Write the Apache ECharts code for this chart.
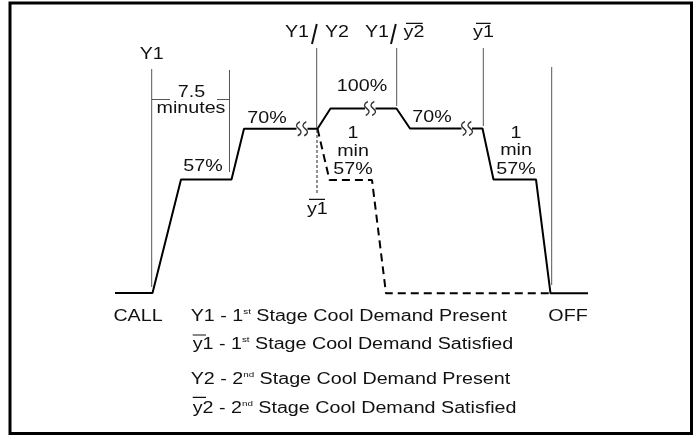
<!DOCTYPE html>
<html>
<head>
<meta charset="utf-8">
<script src="https://cdn.jsdelivr.net/npm/echarts@6/dist/echarts.min.js"></script>
<style>
  html, body { margin: 0; padding: 0; background: #fff; }
  #chart { width: 697px; height: 439px; }
</style>
</head>
<body>
<div id="chart"></div>
<script>
// drawing units = page pixels of the schematic (x: time, y: capacity level, downward)
const solidSegments = [
    [[115, 293], [152.5, 293], [181, 179.5], [231.5, 179.5], [244, 128.8], [296.5, 128.8]],
    [[307.5, 128.8], [317.5, 128.8], [330.5, 108.5], [365, 108.5]],
    [[375.5, 108.5], [396.5, 108.5], [410, 128.5], [461.5, 128.5]],
    [[472, 128.5], [482.5, 128.5], [493.5, 179.5], [536, 179.5], [550.5, 293.3], [588, 293.3]],
];
const dashedPath = [[317.5, 128.8], [329.5, 180], [372, 180], [386, 293.3], [549, 293.3]];
const guideLines = [
    [[151.7, 69], [151.7, 287]],
    [[229.5, 70], [229.5, 172]],
    [[152, 99.5], [170, 99.5]],
    [[217, 99.5], [229.5, 99.5]],
    [[316.7, 48], [316.7, 128]],
    [[396.7, 48], [396.7, 106]],
    [[483.3, 48], [483.3, 126]],
    [[551.7, 67], [551.7, 285]],
];
const dottedGuide = [[317, 130], [317, 193]];
const slashes = [
    [[312, 44], [316.8, 24]],
    [[391, 44], [395.8, 24]],
];
const overlines = [
    [[476, 23.3], [490.7, 23.3]],
    [[406, 23.3], [422.7, 23.3]],
    [[309, 199.3], [325, 199.3]],
    [[192.7, 335], [206, 335]],
    [[192.7, 397.3], [206, 397.3]],
];
const squiggles = [[302, 128.8], [370, 108.5], [467, 128.5]];
const labels = [
    [151.7, 55, 'Y1'],
    [191.5, 93, '7.5'],
    [191, 109, 'minutes'],
    [203, 167, '57%'],
    [267, 119, '70%'],
    [297, 33, 'Y1'],
    [337, 33, 'Y2'],
    [362, 87, '100%'],
    [377, 33, 'Y1'],
    [414, 33, 'y2'],
    [432, 118, '70%'],
    [483.5, 33, 'y1'],
    [353, 133.5, '1'],
    [353, 151.5, 'min'],
    [353, 170, '57%'],
    [516, 133.5, '1'],
    [516, 151, 'min'],
    [516, 169.5, '57%'],
    [317.3, 210, 'y1'],
    [138, 316.7, 'CALL'],
    [568, 316.7, 'OFF'],
];
const legendLines = [
    [190.7, 316.7, 'Y1 - 1', 'st', ' Stage Cool Demand Present'],
    [192.7, 345, 'y1 - 1', 'st', ' Stage Cool Demand Satisfied'],
    [190.7, 380, 'Y2 - 2', 'nd', ' Stage Cool Demand Present'],
    [192.7, 408.3, 'y2 - 2', 'nd', ' Stage Cool Demand Satisfied'],
];

const FONT = '"Liberation Sans", Arial, sans-serif';
const TEXT_SIZE = 16;
const STRETCH = 1.23;  // the source lettering is drawn wide

function lineSeries(points, width, color, type) {
    return {
        type: 'line',
        data: points,
        symbol: 'none',
        silent: true,
        animation: false,
        lineStyle: { width: width, color: color, type: type || 'solid', cap: 'butt' },
    };
}

const series = [];
solidSegments.forEach(s => series.push(lineSeries(s, 2, '#000')));
series.push(lineSeries(dashedPath, 2, '#000', [8, 5]));
guideLines.forEach(s => series.push(lineSeries(s, 1, '#555')));
series.push(lineSeries(dottedGuide, 1, '#222', [3, 2]));
slashes.forEach(s => series.push(lineSeries(s, 2, '#111')));
overlines.forEach(s => series.push(lineSeries(s, 1.2, '#111')));

series.push({
    type: 'scatter',
    data: squiggles,
    symbol: 'path://M4,0 C0,2 0,4 3,6 C6,8 6,10 2,12 M10,0 C6,2 6,4 9,6 C12,8 12,10 8,12',
    symbolSize: [11, 14],
    silent: true,
    animation: false,
    itemStyle: { color: 'rgba(0,0,0,0)', borderColor: '#000', borderWidth: 1.5 },
});

const chart = echarts.init(document.getElementById('chart'), null, { renderer: 'canvas' });
chart.setOption({
    animation: false,
    backgroundColor: '#fff',
    grid: {
        left: 10, top: 3, right: 5.5, bottom: 5.5,
        show: true, borderColor: '#000', borderWidth: 3, backgroundColor: '#fff',
    },
    xAxis: { type: 'value', min: 10, max: 691.5, show: false },
    yAxis: { type: 'value', min: 3, max: 433.5, inverse: true, show: false },
    series: series,
});

// text placed through the same axes, stretched horizontally like the source
const toPx = d => chart.convertToPixel({ gridIndex: 0 }, [d[0], d[1]]);
const graphic = [];
labels.forEach(l => {
    const p = toPx(l);
    graphic.push({
        type: 'text', x: p[0], y: p[1], scaleX: STRETCH, silent: true,
        style: {
            text: l[2], font: TEXT_SIZE + 'px ' + FONT, fill: '#111',
            align: 'center', verticalAlign: 'middle',
        },
    });
});
legendLines.forEach(l => {
    const p = toPx(l);
    graphic.push({
        type: 'text', x: p[0], y: p[1], scaleX: STRETCH, silent: true,
        style: {
            text: '{a|' + l[2] + '}{s|' + l[3] + '}{a|' + l[4] + '}',
            align: 'left', verticalAlign: 'middle',
            rich: {
                a: { fill: '#111', fontFamily: FONT, fontSize: TEXT_SIZE, lineHeight: 18 },
                s: { fill: '#111', fontFamily: FONT, fontSize: 8, lineHeight: 18, verticalAlign: 'top', padding: [0, 0, 8, 0] },
            },
        },
    });
});
chart.setOption({ graphic: graphic });
</script>
</body>
</html>
